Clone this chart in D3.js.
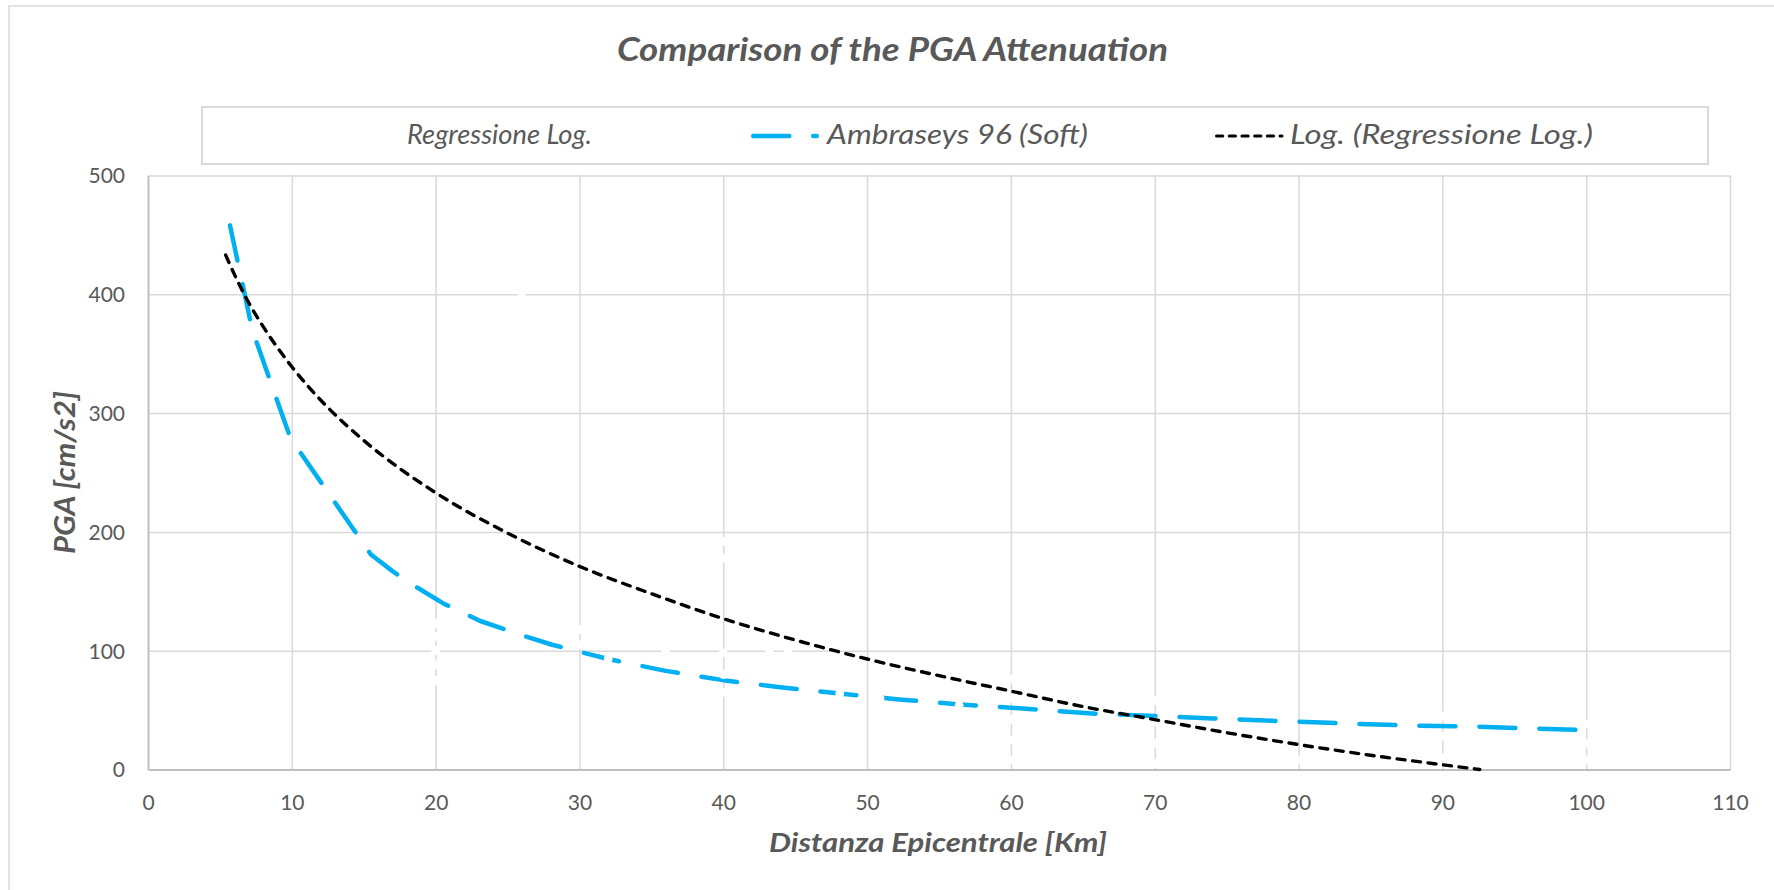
<!DOCTYPE html>
<html><head><meta charset="utf-8">
<script src="https://cdn.jsdelivr.net/npm/d3@7"></script>
<style>
body{margin:0;background:#fff}
svg{display:block}
text{font-family:Lato,"Open Sans",sans-serif}
</style>
</head><body>
<svg id="c" width="1774" height="890"></svg>
<script>
// ---------- data ----------
const chartTitle = "Comparison of the PGA Attenuation";
const xAxisTitle = "Distanza Epicentrale [Km]";
const yAxisTitle = "PGA [cm/s2]";
const seriesNames = ["Regressione Log.", "Ambraseys 96 (Soft)", "Log. (Regressione Log.)"];
const xTicks = [0, 10, 20, 30, 40, 50, 60, 70, 80, 90, 100, 110];
const yTicks = [0, 100, 200, 300, 400, 500];

// observed points (white markers, only visible where they cover grid / lines)
const regrX = [20, 20, 20, 20, 20, 26, 30, 30, 32, 36, 40, 40, 40, 40, 40, 41.5, 43.2, 44.5, 48.1, 50.9, 56.4, 60, 60, 60, 60, 60, 70, 70, 70, 70, 80, 90, 90, 90, 100, 100, 100];
const regrY = [75, 88, 100, 112, 123, 398, 105, 118, 93, 100, 178, 192, 65, 80, 98, 73, 100, 100, 64, 60, 54, 8, 25, 42, 60, 76, 5, 22, 40, 58, 8, 10, 28, 45, 8, 22, 38];

// Ambraseys 96 (Soft)
const ambrX = [5.7, 7.25, 9.9, 15.5, 17.0, 18.2, 20.5, 23.1, 25.5, 28.1, 32.0, 36.0, 40.1, 44.1, 48.1, 52.2, 56.2, 60.0, 65.9, 70.0, 74.0, 78.1, 82.8, 87.6, 92.4, 95.1, 100.2];
const ambrY = [458, 370, 279, 181, 167, 157, 140, 125, 115, 105, 93, 83, 75, 69, 64, 59, 55, 52, 47, 45, 43, 41, 39, 37, 36, 35, 33];

// Log. trendline
const trendX = [5.4, 6, 7, 8, 10, 12, 15, 20, 25, 30, 35, 40, 45, 50, 55, 60, 65, 70, 75, 80, 85, 90, 92.6];
const trendY = [433, 417, 393, 373, 339, 311, 277, 233, 199, 171, 148, 127, 109, 93, 79, 66, 53, 42, 31, 21, 12, 4, 0];

// ---------- layout ----------
const svg = d3.select("#c");
const L = 148, R = 1730, T = 175.5, B = 769.5;
const x = d3.scaleLinear().domain([0, 110]).range([L, R]);
const y = d3.scaleLinear().domain([0, 500]).range([B, T]);
const txt = "#595959", grid = "#d9d9d9", axisCol = "#bfbfbf";
const blue = "#00B0F0";

// squeeze text to a target width (mimics the narrow Calibri face)
function fit(sel, target) {
  sel.attr("textLength", target).attr("lengthAdjust", "spacingAndGlyphs");
  return sel;
}

// outer chart border
svg.append("rect").attr("x", 9).attr("y", 6).attr("width", 1800).attr("height", 900)
  .attr("fill", "#fff").attr("stroke", grid).attr("stroke-width", 1.5);

// title
fit(svg.append("text").attr("x", 617).attr("y", 61)
  .attr("font-size", 33).attr("font-weight", "bold").attr("font-style", "italic")
  .attr("fill", txt).text(chartTitle), 551);

// legend box
svg.append("rect").attr("x", 202).attr("y", 107).attr("width", 1506).attr("height", 57)
  .attr("fill", "#fff").attr("stroke", grid).attr("stroke-width", 2);

// gridlines
const gx = svg.append("g").attr("transform", `translate(0,${B})`)
  .call(d3.axisBottom(x).tickValues(xTicks.filter(d => d > 0)).tickSize(-(B - T)).tickFormat(""));
gx.select(".domain").remove();
gx.selectAll("line").attr("stroke", grid).attr("stroke-width", 1.5);
const gy = svg.append("g").attr("transform", `translate(${L},0)`)
  .call(d3.axisLeft(y).tickValues(yTicks.filter(d => d > 0)).tickSize(-(R - L)).tickFormat(""));
gy.select(".domain").remove();
gy.selectAll("line").attr("stroke", grid).attr("stroke-width", 1.5);

// axis lines + labels
const ax = svg.append("g").attr("transform", `translate(0,${B})`)
  .call(d3.axisBottom(x).tickValues(xTicks).tickSize(0).tickPadding(0));
ax.select(".domain").attr("stroke", axisCol).attr("stroke-width", 2);
ax.selectAll("text").attr("y", 40).attr("dy", null).attr("fill", txt)
  .attr("font-size", 21).attr("font-family", "Lato");
const ay = svg.append("g").attr("transform", `translate(${L},0)`)
  .call(d3.axisLeft(y).tickValues(yTicks).tickSize(0).tickPadding(0));
ay.select(".domain").attr("stroke", axisCol).attr("stroke-width", 2);
ay.selectAll("text").attr("x", -23).attr("dy", "0.35em").attr("fill", txt)
  .attr("font-size", 21).attr("font-family", "Lato");

// axis titles
fit(svg.append("text").attr("x", 769).attr("y", 852)
  .attr("font-size", 27).attr("font-weight", "bold").attr("font-style", "italic")
  .attr("fill", txt).text(xAxisTitle), 338);
fit(svg.append("text").attr("transform", `translate(75,${(T + B) / 2 + 81.5}) rotate(-90)`)
  .attr("font-size", 28).attr("font-weight", "bold").attr("font-style", "italic")
  .attr("fill", txt).text(yAxisTitle), 163);

// Ambraseys series
const ambr = ambrX.map((v, i) => [v, ambrY[i]]);
svg.append("path").datum(ambr)
  .attr("d", d3.line().x(d => x(d[0])).y(d => y(d[1])))
  .attr("fill", "none").attr("stroke", blue).attr("stroke-width", 4.5)
  .attr("stroke-linecap", "round").attr("stroke-linejoin", "round")
  .attr("stroke-dasharray", "36 24");

// Regressione Log. points (white markers)
const regr = regrX.map((v, i) => [v, regrY[i]]);
svg.append("g").selectAll("circle").data(regr).join("circle")
  .attr("cx", d => x(d[0])).attr("cy", d => y(d[1])).attr("r", 4)
  .attr("fill", "#fff").attr("stroke", "#fff").attr("stroke-width", 1);

// trendline
const trend = trendX.map((v, i) => [v, trendY[i]]);
svg.append("path").datum(trend)
  .attr("d", d3.line().x(d => x(d[0])).y(d => y(d[1])).curve(d3.curveMonotoneX))
  .attr("fill", "none").attr("stroke", "#000").attr("stroke-width", 3.4)
  .attr("stroke-linecap", "round").attr("stroke-dasharray", "8 7.6");

// legend entries
const lg = svg.append("g");
const ly = 136;
lg.append("circle").attr("cx", 380).attr("cy", ly).attr("r", 4).attr("fill", "#fff");
fit(lg.append("text").attr("x", 407).attr("y", 144).attr("font-size", 27).attr("font-style", "italic")
  .attr("fill", txt).text(seriesNames[0]), 185);
lg.append("line").attr("x1", 753.25).attr("x2", 816.75).attr("y1", ly).attr("y2", ly)
  .attr("stroke", blue).attr("stroke-width", 4.5).attr("stroke-linecap", "round")
  .attr("stroke-dasharray", "36 24");
fit(lg.append("text").attr("x", 827).attr("y", 144).attr("font-size", 27).attr("font-style", "italic")
  .attr("fill", txt).text(seriesNames[1]), 261);
lg.append("line").attr("x1", 1216.5).attr("x2", 1282).attr("y1", ly).attr("y2", ly)
  .attr("stroke", "#000").attr("stroke-width", 3).attr("stroke-linecap", "round")
  .attr("stroke-dasharray", "6.3 6.4");
fit(lg.append("text").attr("x", 1290).attr("y", 144).attr("font-size", 27).attr("font-style", "italic")
  .attr("fill", txt).text(seriesNames[2]), 303);
</script>
</body></html>
